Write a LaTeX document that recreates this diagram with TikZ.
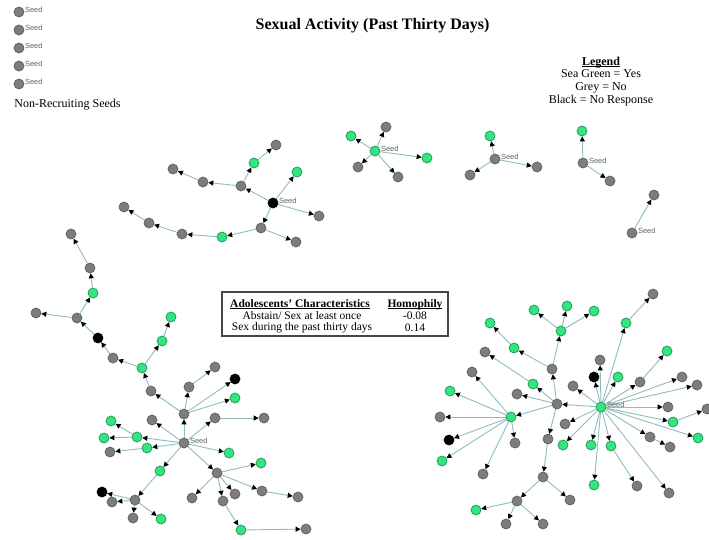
\documentclass[tikz,border=0pt]{standalone}
\usepackage{fontspec}
\setmainfont{Liberation Serif}
\newfontfamily\labelsans{Liberation Sans}
\usetikzlibrary{arrows.meta}
\pgfdeclarelayer{background}
\pgfsetlayers{background,main}

\definecolor{seagreen}{RGB}{52,228,128}
\definecolor{seagreenedge}{RGB}{28,150,80}
\definecolor{nodegrey}{RGB}{125,125,125}
\definecolor{nodegreyedge}{RGB}{95,95,95}
\definecolor{linkcol}{RGB}{140,190,190}
\definecolor{seedtextcol}{RGB}{100,100,100}
\definecolor{framecol}{RGB}{70,70,70}

% underline that ignores descenders
\newcommand\headline[1]{\underline{\smash{#1}}}

\tikzset{
  agent/.style={circle, minimum size=10pt, inner sep=0pt, line width=0.7pt},
  grn/.style={agent, fill=seagreen, draw=seagreenedge},
  gry/.style={agent, fill=nodegrey, draw=nodegreyedge},
  blk/.style={agent, fill=black, draw=black},
  seedtag/.style={label={[font=\labelsans\fontsize{7.5}{8}\selectfont, text=seedtextcol, inner sep=0.5pt, yshift=2.5pt]0:Seed}},
  link/.style={draw=linkcol, line width=0.9pt, -{Triangle[length=5pt,width=5pt,color=black]}},
  plain/.style={inner sep=0pt, font=\fontsize{12}{13}\selectfont},
  tabtext/.style={inner sep=0pt, font=\fontsize{11.5}{12}\selectfont},
  headtext/.style={inner sep=0pt, anchor=base},
}

\begin{document}
\begin{tikzpicture}[x=1pt,y=-1pt]
\begin{pgfonlayer}{background}
\fill[white] (0,0) rectangle (709,539);
\end{pgfonlayer}
\useasboundingbox (0,0) rectangle (709,539);

% headings
\node[inner sep=0pt, font=\fontsize{16}{19}\selectfont\bfseries] (title) at (372.5,26) {Sexual Activity (Past Thirty Days)};
\node[headtext, font=\fontsize{12}{13}\selectfont\bfseries] (legtitle) at (601,65) {\headline{Legend}};
\node[plain] (legyes) at (601,74) {Sea Green = Yes};
\node[plain] (legno) at (601,87.5) {Grey = No};
\node[plain] (legnr) at (601,101) {Black = No Response};
\node[plain] (nrs) at (67.5,105) {Non-Recruiting Seeds};

% homophily table
\node[draw=framecol, line width=1.4pt, minimum width=226pt, minimum height=44pt, inner sep=0pt] (tbl) at (335,314) {};
\node[headtext, font=\fontsize{11.5}{12}\selectfont\bfseries] (th1) at (300,307) {\headline{Adolescents' Characteristics}};
\node[headtext, font=\fontsize{11.5}{12}\selectfont\bfseries] (th2) at (415,307) {\headline{Homophily}};
\node[tabtext] (r1a) at (302,315.5) {Abstain/ Sex at least once};
\node[tabtext] (r1b) at (415,315.5) {-0.08};
\node[tabtext] (r2a) at (302,328) {Sex during the past thirty days};
\node[tabtext] (r2b) at (415,328) {0.14};

% seeds that recruited nobody
\foreach \i/\yy in {1/12,2/30,3/48,4/66,5/84}
  \node[gry, seedtag] (n\i) at (19,\yy) {};

% small chains at the top
\node[grn, seedtag] (a0) at (375,151) {};
\node[grn] (a1) at (351,136) {};
\node[gry] (a2) at (386,127) {};
\node[grn] (a3) at (427,158) {};
\node[gry] (a4) at (358,167) {};
\node[gry] (a5) at (398,177) {};

\node[gry, seedtag] (b0) at (495,159) {};
\node[grn] (b1) at (490,136) {};
\node[gry] (b2) at (470,175) {};
\node[gry] (b3) at (537,167) {};

\node[gry, seedtag] (c0) at (583,163) {};
\node[grn] (c1) at (582,131) {};
\node[gry] (c2) at (610,181) {};

\node[gry, seedtag] (d0) at (632,233) {};
\node[gry] (d1) at (654,195) {};

\node[blk, seedtag] (e0) at (273,203) {};
\node[grn] (e1) at (297,172) {};
\node[gry] (e2) at (319,216) {};
\node[gry] (e3) at (261,228) {};
\node[gry] (e4) at (241,186) {};
\node[grn] (e5) at (254,163) {};
\node[gry] (e6) at (276,145) {};
\node[gry] (e7) at (203,182) {};
\node[gry] (e8) at (173,169) {};
\node[gry] (e9) at (296,242) {};
\node[grn] (e10) at (222,237) {};
\node[gry] (e11) at (182,234) {};
\node[gry] (e12) at (149,223) {};
\node[gry] (e13) at (124,207) {};

% lower left network
\node[gry, seedtag] (f0) at (184,443) {};
\node[gry] (f1) at (184,414) {};
\node[gry] (f2) at (151,391) {};
\node[grn] (f3) at (142,368) {};
\node[gry] (f4) at (113,358) {};
\node[blk] (f5) at (98,338) {};
\node[gry] (f6) at (77,318) {};
\node[gry] (f7) at (36,313) {};
\node[grn] (f8) at (93,293) {};
\node[gry] (f9) at (90,268) {};
\node[gry] (f10) at (71,234) {};
\node[grn] (f11) at (162,341) {};
\node[grn] (f12) at (171,317) {};
\node[gry] (f13) at (189,387) {};
\node[gry] (f14) at (215,367) {};
\node[blk] (f15) at (235,379) {};
\node[grn] (f16) at (235,398) {};
\node[gry] (f17) at (152,420) {};
\node[grn] (f18) at (137,437) {};
\node[grn] (f19) at (111,421) {};
\node[grn] (f20) at (104,438) {};
\node[grn] (f21) at (147,448) {};
\node[gry] (f22) at (110,452) {};
\node[gry] (f23) at (215,418) {};
\node[gry] (f24) at (264,418) {};
\node[grn] (f25) at (229,453) {};
\node[gry] (f26) at (217,473) {};
\node[grn] (f27) at (261,463) {};
\node[gry] (f28) at (262,491) {};
\node[gry] (f29) at (298,497) {};
\node[gry] (f30) at (235,494) {};
\node[gry] (f31) at (223,501) {};
\node[gry] (f32) at (192,498) {};
\node[grn] (f33) at (241,530) {};
\node[gry] (f34) at (306,529) {};
\node[grn] (f35) at (160,471) {};
\node[gry] (f36) at (135,500) {};
\node[gry] (f37) at (112,502) {};
\node[blk] (f38) at (102,492) {};
\node[gry] (f39) at (133,518) {};
\node[grn] (f40) at (161,519) {};

% lower right network
\node[grn, seedtag] (g0) at (601,407) {};
\node[gry] (g1) at (557,404) {};
\node[gry] (g2) at (552,369) {};
\node[grn] (g3) at (561,331) {};
\node[grn] (g4) at (534,310) {};
\node[grn] (g5) at (567,306) {};
\node[grn] (g6) at (594,311) {};
\node[grn] (g7) at (514,348) {};
\node[grn] (g8) at (490,323) {};
\node[gry] (g9) at (485,352) {};
\node[grn] (g10) at (533,384) {};
\node[gry] (g11) at (517,394) {};
\node[grn] (g12) at (511,417) {};
\node[gry] (g13) at (472,372) {};
\node[grn] (g14) at (450,391) {};
\node[gry] (g15) at (440,417) {};
\node[blk] (g16) at (449,440) {};
\node[grn] (g17) at (442,461) {};
\node[gry] (g18) at (483,474) {};
\node[gry] (g19) at (515,443) {};
\node[gry] (g20) at (548,439) {};
\node[gry] (g21) at (543,477) {};
\node[gry] (g22) at (570,500) {};
\node[gry] (g23) at (517,501) {};
\node[grn] (g24) at (476,510) {};
\node[gry] (g25) at (506,524) {};
\node[gry] (g26) at (543,524) {};
\node[gry] (g27) at (573,386) {};
\node[blk] (g28) at (594,377) {};
\node[gry] (g29) at (600,360) {};
\node[grn] (g30) at (618,377) {};
\node[grn] (g31) at (626,323) {};
\node[gry] (g32) at (653,294) {};
\node[gry] (g33) at (640,382) {};
\node[grn] (g34) at (667,351) {};
\node[gry] (g35) at (682,377) {};
\node[gry] (g36) at (697,385) {};
\node[gry] (g37) at (668,407) {};
\node[grn] (g38) at (673,422) {};
\node[gry] (g39) at (707,409) {};
\node[grn] (g40) at (698,438) {};
\node[gry] (g41) at (650,437) {};
\node[gry] (g42) at (670,447) {};
\node[gry] (g43) at (565,424) {};
\node[grn] (g44) at (563,445) {};
\node[grn] (g45) at (591,445) {};
\node[grn] (g46) at (611,446) {};
\node[grn] (g47) at (594,485) {};
\node[gry] (g48) at (637,486) {};
\node[gry] (g49) at (669,493) {};

% recruitment links, drawn beneath the nodes
\begin{pgfonlayer}{background}
\foreach \s/\t in {a0/a1,a0/a2,a0/a3,a0/a4,a0/a5,
                   b0/b1,b0/b2,b0/b3,
                   c0/c1,c0/c2,
                   d0/d1,
                   e0/e1,e0/e2,e0/e3,e0/e4,e4/e5,e5/e6,e4/e7,e7/e8,
                   e3/e9,e3/e10,e10/e11,e11/e12,e12/e13}
  \draw[link] (\s) -- (\t);
\foreach \s/\t in {f0/f1,f1/f2,f2/f3,f3/f4,f4/f5,f5/f6,f6/f7,f6/f8,f8/f9,f9/f10,
                   f3/f11,f11/f12,f1/f13,f13/f14,f1/f15,f1/f16,
                   f0/f17,f0/f18,f18/f19,f18/f20,f0/f21,f21/f22,f0/f23,f23/f24,
                   f0/f25,f0/f26,f26/f27,f26/f28,f28/f29,f26/f30,f26/f31,f31/f33,
                   f33/f34,f26/f32,f0/f35,f35/f36,f36/f37,f36/f38,f36/f39,f36/f40}
  \draw[link] (\s) -- (\t);
\foreach \s/\t in {g0/g1,g1/g2,g2/g3,g3/g4,g3/g5,g3/g6,g2/g7,g7/g8,g1/g10,g10/g9,
                   g1/g11,g1/g12,g12/g13,g12/g14,g12/g15,g12/g16,g12/g17,g12/g18,
                   g12/g19,g1/g20,g20/g21,g21/g22,g21/g23,g23/g24,g23/g25,g23/g26,
                   g0/g27,g0/g28,g0/g29,g0/g30,g0/g31,g31/g32,g0/g33,g33/g34,
                   g0/g35,g0/g36,g0/g37,g0/g38,g38/g39,g0/g40,g0/g41,g41/g42,
                   g0/g43,g0/g44,g0/g45,g0/g46,g0/g47,g46/g48,g0/g49}
  \draw[link] (\s) -- (\t);
\end{pgfonlayer}
\end{tikzpicture}
\end{document}
